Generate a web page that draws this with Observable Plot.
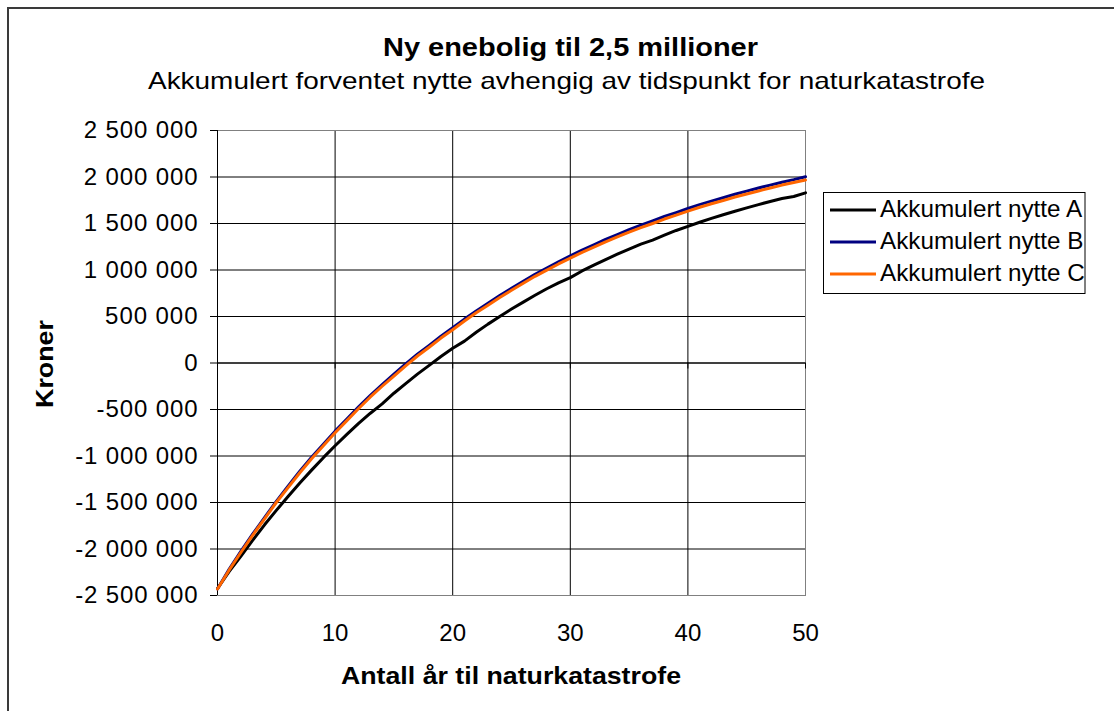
<!DOCTYPE html>
<html><head><meta charset="utf-8">
<script src="https://cdn.jsdelivr.net/npm/d3@7"></script>
<script src="https://cdn.jsdelivr.net/npm/@observablehq/plot@0.6"></script>
<style>
html,body{margin:0;padding:0;background:#fff;}
#chart{position:relative;width:1114px;height:711px;overflow:hidden;background:#fff;}
#border{position:absolute;left:7px;top:7px;width:2000px;height:2000px;border-left:2px solid #3a3a3a;border-top:2px solid #3a3a3a;}
#chart svg{position:absolute;left:0;top:0;}
</style></head><body><div id="chart"><div id="border"></div></div>
<script>
const years = [0,1,2,3,4,5,6,7,8,9,10,11,12,13,14,15,16,17,18,19,20,21,22,23,24,25,26,27,28,29,30,31,32,33,34,35,36,37,38,39,40,41,42,43,44,45,46,47,48,49,50];
const nytteA = [-2425000,-2240000,-2075000,-1905000,-1740000,-1585000,-1435000,-1290000,-1152000,-1018000,
  -890000,-768000,-650000,-540000,-440000,-325000,-222000,-120000,-25000,70000,
  158000,235000,330000,418000,500000,580000,655000,728000,798000,862000,
  918000,990000,1052000,1112000,1170000,1225000,1278000,1322000,1375000,1425000,
  1470000,1513000,1555000,1594000,1632000,1668000,1703000,1737000,1768000,1790000,1830000];
const nytteB = [-2430000,-2215000,-2022000,-1838000,-1662000,-1488000,-1325000,-1163000,-1013000,-873000,
  -733000,-603000,-472000,-347000,-231000,-120000,-10000,95000,190000,288000,
  378000,472000,560000,643000,726000,803000,880000,954000,1020000,1088000,
  1151000,1214000,1270000,1329000,1381000,1434000,1482000,1527000,1575000,1617000,
  1661000,1703000,1741000,1777000,1815000,1848000,1881000,1913000,1944000,1972000,2003000];
const nytteC = [-2430000,-2225000,-2035000,-1850000,-1675000,-1500000,-1340000,-1180000,-1030000,-890000,
  -750000,-620000,-490000,-365000,-250000,-140000,-30000,75000,170000,268000,
  358000,452000,540000,622000,705000,782000,858000,932000,998000,1065000,
  1128000,1190000,1245000,1303000,1355000,1408000,1455000,1500000,1548000,1590000,
  1633000,1675000,1712000,1748000,1785000,1818000,1850000,1882000,1913000,1940000,1968000];
const seriesNames = ["Akkumulert nytte A","Akkumulert nytte B","Akkumulert nytte C"];
const seriesColors = ["#000000","#000080","#FF6600"];
const yTicks = [-2500000,-2000000,-1500000,-1000000,-500000,0,500000,1000000,1500000,2000000,2500000];
const xTicks = [0,10,20,30,40,50];
const titleText = "Ny enebolig til 2,5 millioner";
const subtitleText = "Akkumulert forventet nytte avhengig av tidspunkt for naturkatastrofe";
const xLabel = "Antall år til naturkatastrofe";
const yLabel = "Kroner";

const rows = [];
[nytteA, nytteB, nytteC].forEach((arr, s) => arr.forEach((v, i) => rows.push({year: years[i], value: v, series: seriesNames[s]})));

const nok = d3.formatLocale({decimal: ",", thousands: " ", grouping: [3], currency: ["", ""], minus: "-"}).format(",d");
const FONT = "'Liberation Sans', Arial, Helvetica, sans-serif";

const yDom = [yTicks[0], yTicks[yTicks.length - 1]];
const xDom = [xTicks[0], xTicks[xTicks.length - 1]];

const plot = Plot.plot({
  width: 1114, height: 711,
  marginLeft: 217, marginRight: 309, marginTop: 130, marginBottom: 116,
  style: {fontFamily: FONT, fontSize: "24px", color: "#000", background: "transparent"},
  x: {domain: xDom, label: null},
  y: {domain: yDom, label: null},
  color: {domain: seriesNames, range: seriesColors},
  marks: [
    Plot.gridY(yTicks.filter(t => t > yDom[0] && t < yDom[1]), {stroke: "#000", strokeOpacity: 1}),
    Plot.gridX(xTicks.filter(t => t > xDom[0] && t < xDom[1]), {stroke: "#000", strokeOpacity: 1}),
    Plot.frame({stroke: "#808080"}),
    Plot.ruleX([xDom[0]], {stroke: "#000"}),
    Plot.ruleY([0], {stroke: "#000"}),
    Plot.ruleX(xTicks, {y1: 0, y2: 0, insetBottom: -6, stroke: "#000"}),
    Plot.axisY(yTicks, {tickSize: 7, tickPadding: 13, tickFormat: nok, label: null}),
    Plot.axisX(xTicks, {tickSize: 0, tickPadding: 28, label: null}),
    Plot.lineY(rows, {x: "year", y: "value", stroke: "series", strokeWidth: 3})
  ]
});

document.getElementById("chart").appendChild(plot);
const svg = d3.select(plot);

// widen y tick labels slightly like the reference
svg.selectAll('g[aria-label="y-axis tick label"] text').each(function() {
  const w = this.getComputedTextLength();
  d3.select(this).attr("textLength", w * 1.065).attr("lengthAdjust", "spacing");
});

const ov = svg.append("g").attr("font-family", FONT).attr("fill", "#000");

ov.append("text").text(titleText)
  .attr("x", 570.5).attr("y", 56).attr("text-anchor", "middle")
  .attr("font-size", 26).attr("font-weight", "bold")
  .attr("textLength", 375).attr("lengthAdjust", "spacingAndGlyphs");

ov.append("text").text(subtitleText)
  .attr("x", 566.5).attr("y", 89).attr("text-anchor", "middle")
  .attr("font-size", 24)
  .attr("textLength", 837).attr("lengthAdjust", "spacingAndGlyphs");

ov.append("text").text(xLabel)
  .attr("x", 511).attr("y", 684).attr("text-anchor", "middle")
  .attr("font-size", 24).attr("font-weight", "bold")
  .attr("textLength", 340).attr("lengthAdjust", "spacingAndGlyphs");

ov.append("text").text(yLabel)
  .attr("transform", "translate(53,364) rotate(-90)").attr("text-anchor", "middle")
  .attr("font-size", 24).attr("font-weight", "bold")
  .attr("textLength", 88).attr("lengthAdjust", "spacingAndGlyphs");

// legend
const lg = {x: 823.5, y: 192.5, w: 261.5, h: 101};
svg.append("defs").append("clipPath").attr("id", "lgclip")
  .append("rect").attr("x", lg.x).attr("y", lg.y).attr("width", lg.w).attr("height", lg.h);
const leg = svg.append("g");
leg.append("rect").attr("x", lg.x).attr("y", lg.y).attr("width", lg.w).attr("height", lg.h)
  .attr("fill", "#fff").attr("stroke", "#000").attr("stroke-width", 1);
const items = leg.append("g").attr("clip-path", "url(#lgclip)")
  .selectAll("g").data(seriesNames).join("g")
  .attr("transform", (d, i) => `translate(0,${210 + i * 32})`);
items.append("line").attr("x1", 830).attr("x2", 876).attr("y1", 0).attr("y2", 0)
  .attr("stroke", (d, i) => seriesColors[i]).attr("stroke-width", 3);
items.append("text").text(d => d).attr("x", 880).attr("y", 6.5)
  .attr("text-anchor", "start")
  .attr("font-family", FONT).attr("font-size", 24).attr("fill", "#000")
  .each(function() {
    const w = this.getComputedTextLength();
    d3.select(this).attr("textLength", w * 1.01).attr("lengthAdjust", "spacingAndGlyphs");
  });
</script>
</body></html>
